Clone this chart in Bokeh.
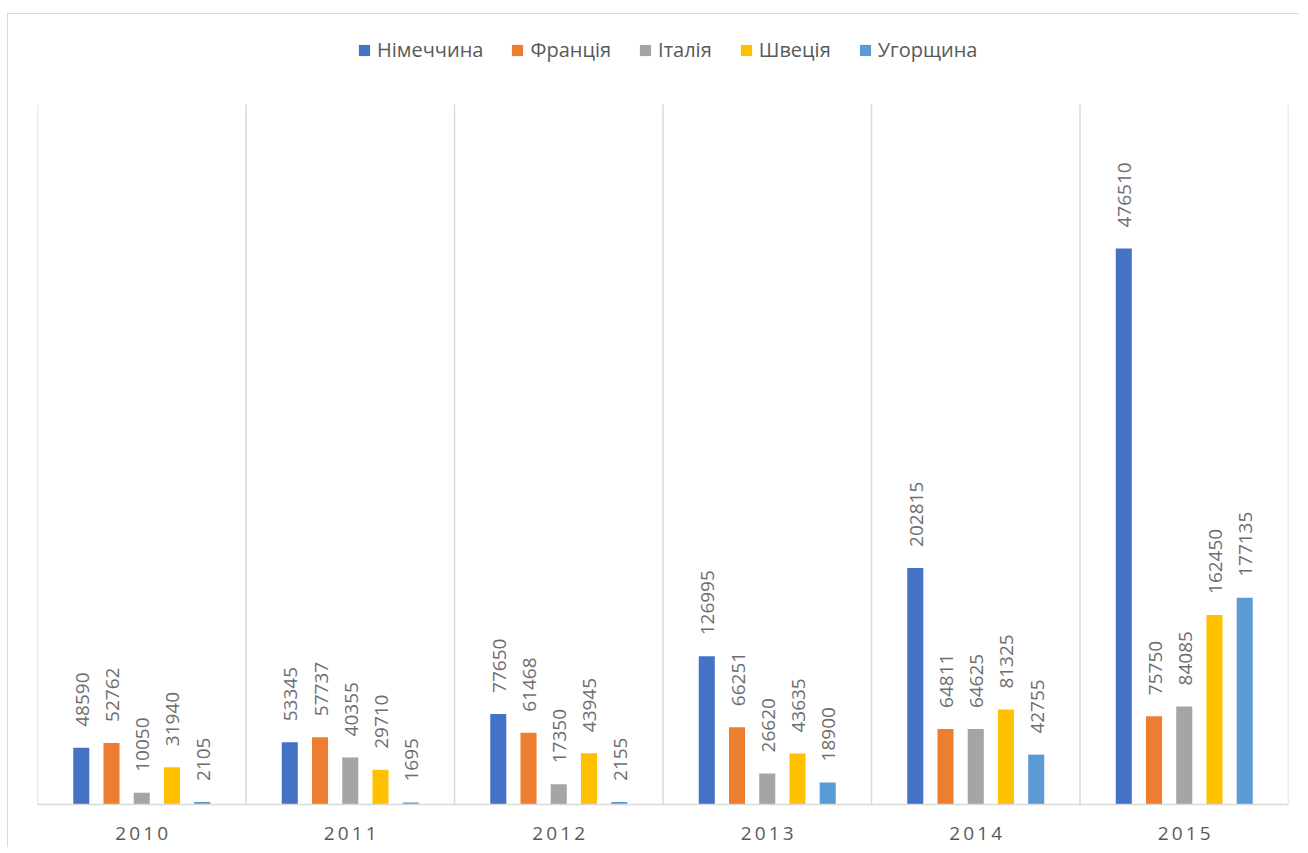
import math
from bokeh.plotting import figure
from bokeh.models import ColumnDataSource, Range1d, Legend, LegendItem, FixedTicker
from bokeh.transform import dodge
from bokeh.core.properties import value
from bokeh.embed import file_html
from bokeh.resources import INLINE

years = ["2010", "2011", "2012", "2013", "2014", "2015"]
countries = ["Німеччина", "Франція", "Італія", "Швеція", "Угорщина"]
germany = [48590, 53345, 77650, 126995, 202815, 476510]
france = [52762, 57737, 61468, 66251, 64811, 75750]
italy = [10050, 40355, 17350, 26620, 64625, 84085]
sweden = [31940, 29710, 43945, 43635, 81325, 162450]
hungary = [2105, 1695, 2155, 18900, 42755, 177135]
colors = ["#4472C4", "#ED7D31", "#A5A5A5", "#FFC000", "#5B9BD5"]

series = [germany, france, italy, sweden, hungary]
keys = ["s0", "s1", "s2", "s3", "s4"]

n = len(years)
xc = [i + 0.5 for i in range(n)]
data = {"year": years, "xc": xc}
for k, s in zip(keys, series):
    data[k] = s
    data[k + "_t"] = [str(v) for v in s]
src = ColumnDataSource(data)

FONT = "Open Sans"
TXT = "#595959"
LBL = "#6e6e6e"
GRID = "#d9d9d9"
Y_GRID_TOP = 600000
Y_MAX = 672000

p = figure(width=1292, height=834,
           x_range=Range1d(0, n), y_range=Range1d(0, Y_MAX),
           output_backend="svg", toolbar_location=None,
           min_border_left=29, min_border_right=12,
           min_border_top=6, min_border_bottom=44,
           outline_line_color=None)
p.margin = (13, 0, 0, 7)
p.styles = {"border-left": "1px solid #d9d9d9", "border-top": "1px solid #d9d9d9"}

p.yaxis.visible = False
p.ygrid.grid_line_color = None
p.xgrid.grid_line_color = None

bounds = list(range(n + 1))
p.segment(x0=bounds, y0=[0] * len(bounds), x1=bounds, y1=[Y_GRID_TOP] * len(bounds),
          line_color=GRID, line_width=1.5)

offsets = [-0.29, -0.145, 0.0, 0.145, 0.29]
bar_w = 0.077
renderers = []
for k, off, c in zip(keys, offsets, colors):
    r = p.vbar(x=dodge("xc", off), top=k, width=bar_w,
               source=src, fill_color=c, line_color=None)
    renderers.append(r)
    p.text(x=dodge("xc", off), y=k, text=k + "_t", source=src,
           angle=math.pi / 2, text_align="left", text_baseline="middle",
           y_offset=-21, x_offset=1,
           text_font=value(FONT), text_font_size="19px", text_color=LBL)

ax = p.xaxis[0]
ax.ticker = FixedTicker(ticks=xc)
ax.axis_line_color = GRID
ax.axis_line_width = 1.5
ax.major_tick_line_color = None
ax.minor_tick_line_color = None
ax.major_label_standoff = 9
ax.major_label_text_font = FONT
ax.major_label_text_font_size = "19px"
ax.major_label_text_color = TXT
ax.major_label_overrides = {x: "\u2009".join(y) for x, y in zip(xc, years)}

legend = Legend(items=[LegendItem(label=c, renderers=[r]) for c, r in zip(countries, renderers)],
                orientation="horizontal", location=(320, 741),
                glyph_width=14, glyph_height=14, label_standoff=6, spacing=27,
                padding=0, margin=0, border_line_color=None, background_fill_alpha=0,
                label_text_font=FONT, label_text_font_size="20px", label_text_color=TXT)
p.add_layout(legend, "center")

open("out.html", "w").write(file_html(p, INLINE))
